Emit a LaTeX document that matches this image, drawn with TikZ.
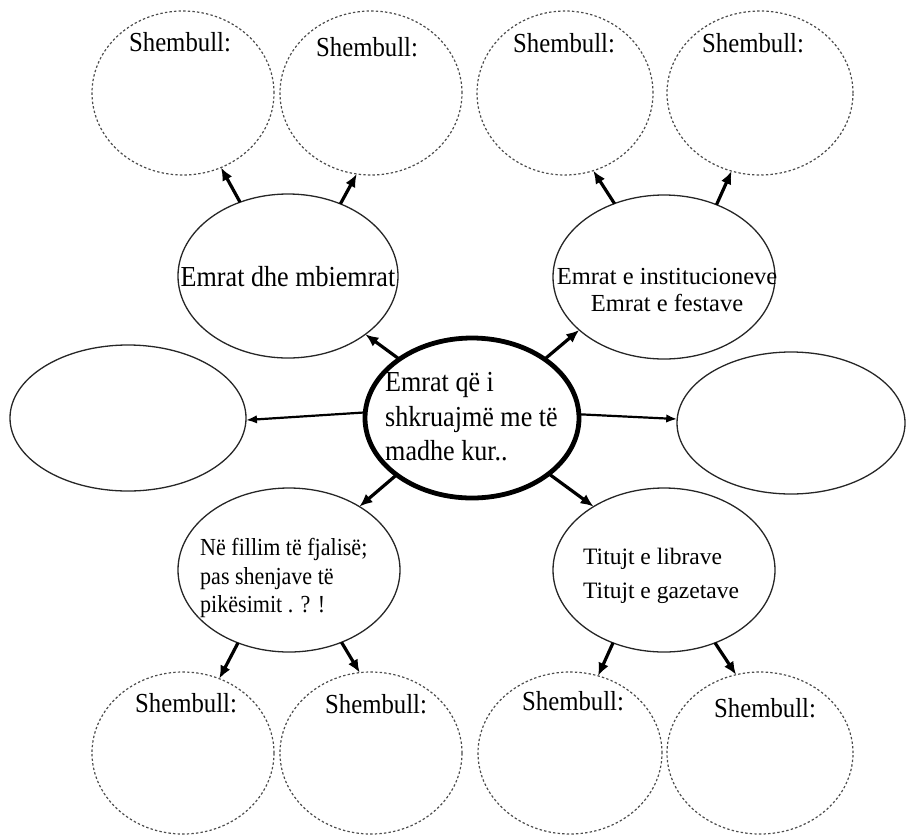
\documentclass[tikz,border=0pt]{standalone}
\usepackage{fontspec}
\setmainfont{Liberation Serif}
\usetikzlibrary{shapes.geometric,arrows.meta}
\newcommand\cx[1]{\scalebox{0.9}[1]{#1}}
\begin{document}
\begin{tikzpicture}[x=1pt,y=-1pt,
  dashov/.style={draw=black!70, dash pattern=on 2.4pt off 2.2pt, line width=1.2pt, ellipse, inner sep=0pt, outer sep=0pt},
  solidov/.style={draw=black!85, line width=1.3pt, ellipse, inner sep=0pt, outer sep=0pt},
  lbl/.style={inner sep=0pt, font=\fontsize{27.5}{30}\selectfont},
  arr/.style={line width=3.2pt, -{Latex[length=13pt,width=11pt]}},
  harr/.style={line width=2.2pt, -{Latex[length=11pt,width=8.5pt]}}]
\useasboundingbox (0,0) rectangle (915,836);
% dashed example ellipses
\node[dashov, minimum width=182pt, minimum height=164pt] (t1) at (183,93) {};
\node[dashov, minimum width=182pt, minimum height=164pt] (t2) at (371,93) {};
\node[dashov, minimum width=176pt, minimum height=164pt] (t3) at (565,93) {};
\node[dashov, minimum width=186pt, minimum height=164pt] (t4) at (760,93) {};
\node[dashov, minimum width=182pt, minimum height=162pt] (b1) at (183,753) {};
\node[dashov, minimum width=182pt, minimum height=162pt] (b2) at (371,753) {};
\node[dashov, minimum width=184pt, minimum height=162pt] (b3) at (570,753) {};
\node[dashov, minimum width=186pt, minimum height=162pt] (b4) at (760,753) {};
% shembull labels
\node[lbl] (s1) at (180,42) {\cx{Shembull:}};
\node[lbl] (s2) at (367,47) {\cx{Shembull:}};
\node[lbl] (s3) at (564,43) {\cx{Shembull:}};
\node[lbl] (s4) at (753,43) {\cx{Shembull:}};
\node[lbl] (s5) at (186,703) {\cx{Shembull:}};
\node[lbl] (s6) at (376,704) {\cx{Shembull:}};
\node[lbl] (s7) at (573,701) {\cx{Shembull:}};
\node[lbl] (s8) at (765,708) {\cx{Shembull:}};
% solid ellipses
\node[solidov, minimum width=220pt, minimum height=164pt] (e1) at (288,276) {};
\node[solidov, minimum width=222pt, minimum height=164pt] (e2) at (664,277) {};
\node[solidov, minimum width=222pt, minimum height=164pt] (e3) at (289,570) {};
\node[solidov, minimum width=222pt, minimum height=164pt] (e4) at (664,570) {};
\node[solidov, minimum width=236pt, minimum height=146pt] (l) at (128,418) {};
\node[solidov, minimum width=228pt, minimum height=142pt] (r) at (791,423) {};
\node[ellipse, draw=black, line width=4.8pt, inner sep=0pt, outer sep=0pt, minimum width=214pt, minimum height=160pt] (c) at (472,418) {};
% texts
\node[lbl, font=\fontsize{29}{30}\selectfont] (e1t) at (288,277) {\cx{Emrat dhe mbiemrat}};
\node[lbl, font=\fontsize{24.5}{27}\selectfont, align=center] (e2t) at (667,290) {Emrat e institucioneve\\Emrat e festave};
\node[lbl, font=\fontsize{29}{34.5}\selectfont, align=left, anchor=west] (ct) at (385,417) {\cx{Emrat që i}\\\cx{shkruajmë me të}\\\cx{madhe kur..}};
\node[lbl, font=\fontsize{24.5}{28.5}\selectfont, align=left, anchor=west] (e3t) at (200,578) {\cx{Në fillim të fjalisë;}\\\cx{pas shenjave të}\\\cx{pikësimit . ? !}};
\node[lbl, font=\fontsize{23.5}{34}\selectfont, align=left, anchor=west] (e4t) at (583,576) {Titujt e librave\\Titujt e gazetave};
% arrows
\draw[arr] (e1.123.7) -- (t1.297.2);
\draw[arr] (e1.54.2) -- (t2.260.4);
\draw[arr] (e2.124) -- (t3.290.7);
\draw[arr] (e2.54.4) -- (t4.250.7);
\draw[arr] (c.141.9) -- (e1.323.2);
\draw[arr] (c.39.1) -- (e2.212.8);
\draw[harr] (c.177) -- (l.359);
\draw[harr] (c.2.6) -- (r.178);
\draw[arr] (c.217.7) -- (e3.42.2);
\draw[arr] (c.324.1) -- (e4.138.3);
\draw[arr] (e3.235.1) -- (b1.64.1);
\draw[arr] (e3.306) -- (b2.98.5);
\draw[arr] (e4.235.6) -- (b3.70.3);
\draw[arr] (e4.305.4) -- (b4.107.4);
\end{tikzpicture}
\end{document}
